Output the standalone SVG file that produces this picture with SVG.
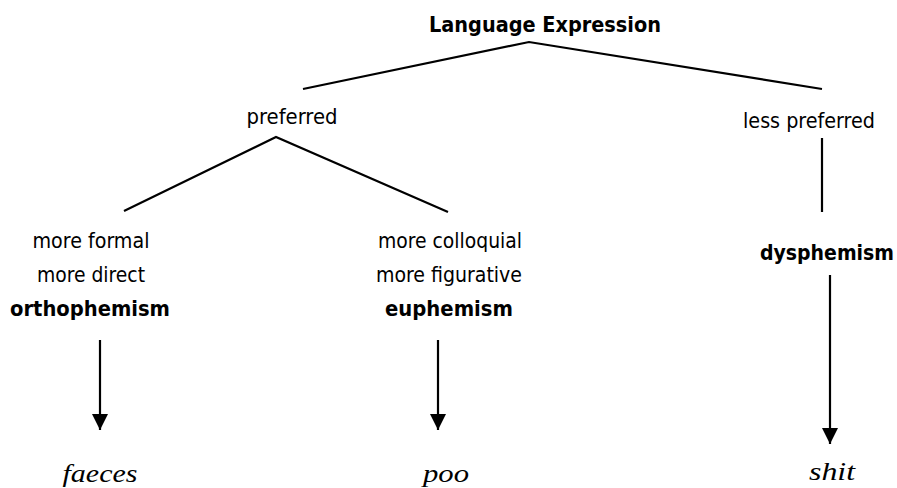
<svg xmlns="http://www.w3.org/2000/svg" width="897" height="488" viewBox="0 0 897 488">
  <style>
    .t { font-family: "DejaVu Sans Condensed", "DejaVu Sans", sans-serif; font-stretch: condensed; font-size: 21px; fill: #000; text-anchor: middle; }
    .b { font-weight: bold; }
    .i { font-family: "Liberation Serif", serif; font-style: italic; font-size: 25px; fill: #000; text-anchor: middle; }
    .ln { stroke: #000; stroke-width: 2.2; fill: none; }
  </style>
  <defs>
    <marker id="arrow" markerUnits="userSpaceOnUse" markerWidth="16" markerHeight="17" refX="16" refY="8" orient="auto">
      <path d="M0,0 L16,8 L0,16 Z" fill="#000"/>
    </marker>
  </defs>
  <rect width="897" height="488" fill="#fff"/>

  <g id="connectors">
    <polyline class="ln" points="303,89 529,42 822,89"/>
    <polyline class="ln" points="124,211 276,137 448,212"/>
    <line class="ln" x1="822" y1="138" x2="822" y2="212"/>
    <line class="ln" x1="100" y1="340" x2="100" y2="430" marker-end="url(#arrow)"/>
    <line class="ln" x1="438" y1="340" x2="438" y2="430" marker-end="url(#arrow)"/>
    <line class="ln" x1="830" y1="275" x2="830" y2="444" marker-end="url(#arrow)"/>
  </g>

  <g id="language-expression">
    <text class="t b" x="545" y="32" textLength="232" lengthAdjust="spacingAndGlyphs">Language Expression</text>
  </g>
  <g id="preferred">
    <text class="t" x="292" y="124" textLength="91" lengthAdjust="spacingAndGlyphs">preferred</text>
  </g>
  <g id="less-preferred">
    <text class="t" x="809" y="128" textLength="132" lengthAdjust="spacingAndGlyphs">less preferred</text>
  </g>
  <g id="orthophemism">
    <text class="t" x="91" y="248" textLength="117" lengthAdjust="spacingAndGlyphs">more formal</text>
    <text class="t" x="91" y="282" textLength="108" lengthAdjust="spacingAndGlyphs">more direct</text>
    <text class="t b" x="90" y="316" textLength="160" lengthAdjust="spacingAndGlyphs">orthophemism</text>
  </g>
  <g id="euphemism">
    <text class="t" x="450" y="248" textLength="144" lengthAdjust="spacingAndGlyphs">more colloquial</text>
    <text class="t" x="449" y="282" textLength="146" lengthAdjust="spacingAndGlyphs">more figurative</text>
    <text class="t b" x="449" y="316" textLength="128" lengthAdjust="spacingAndGlyphs">euphemism</text>
  </g>
  <g id="dysphemism">
    <text class="t b" x="827" y="260" textLength="134" lengthAdjust="spacingAndGlyphs">dysphemism</text>
  </g>
  <g id="faeces">
    <text class="i" x="100" y="482" textLength="75" lengthAdjust="spacingAndGlyphs">faeces</text>
  </g>
  <g id="poo">
    <text class="i" x="446" y="482" textLength="46" lengthAdjust="spacingAndGlyphs">poo</text>
  </g>
  <g id="shit">
    <text class="i" x="832" y="480" textLength="46" lengthAdjust="spacingAndGlyphs">shit</text>
  </g>
</svg>
